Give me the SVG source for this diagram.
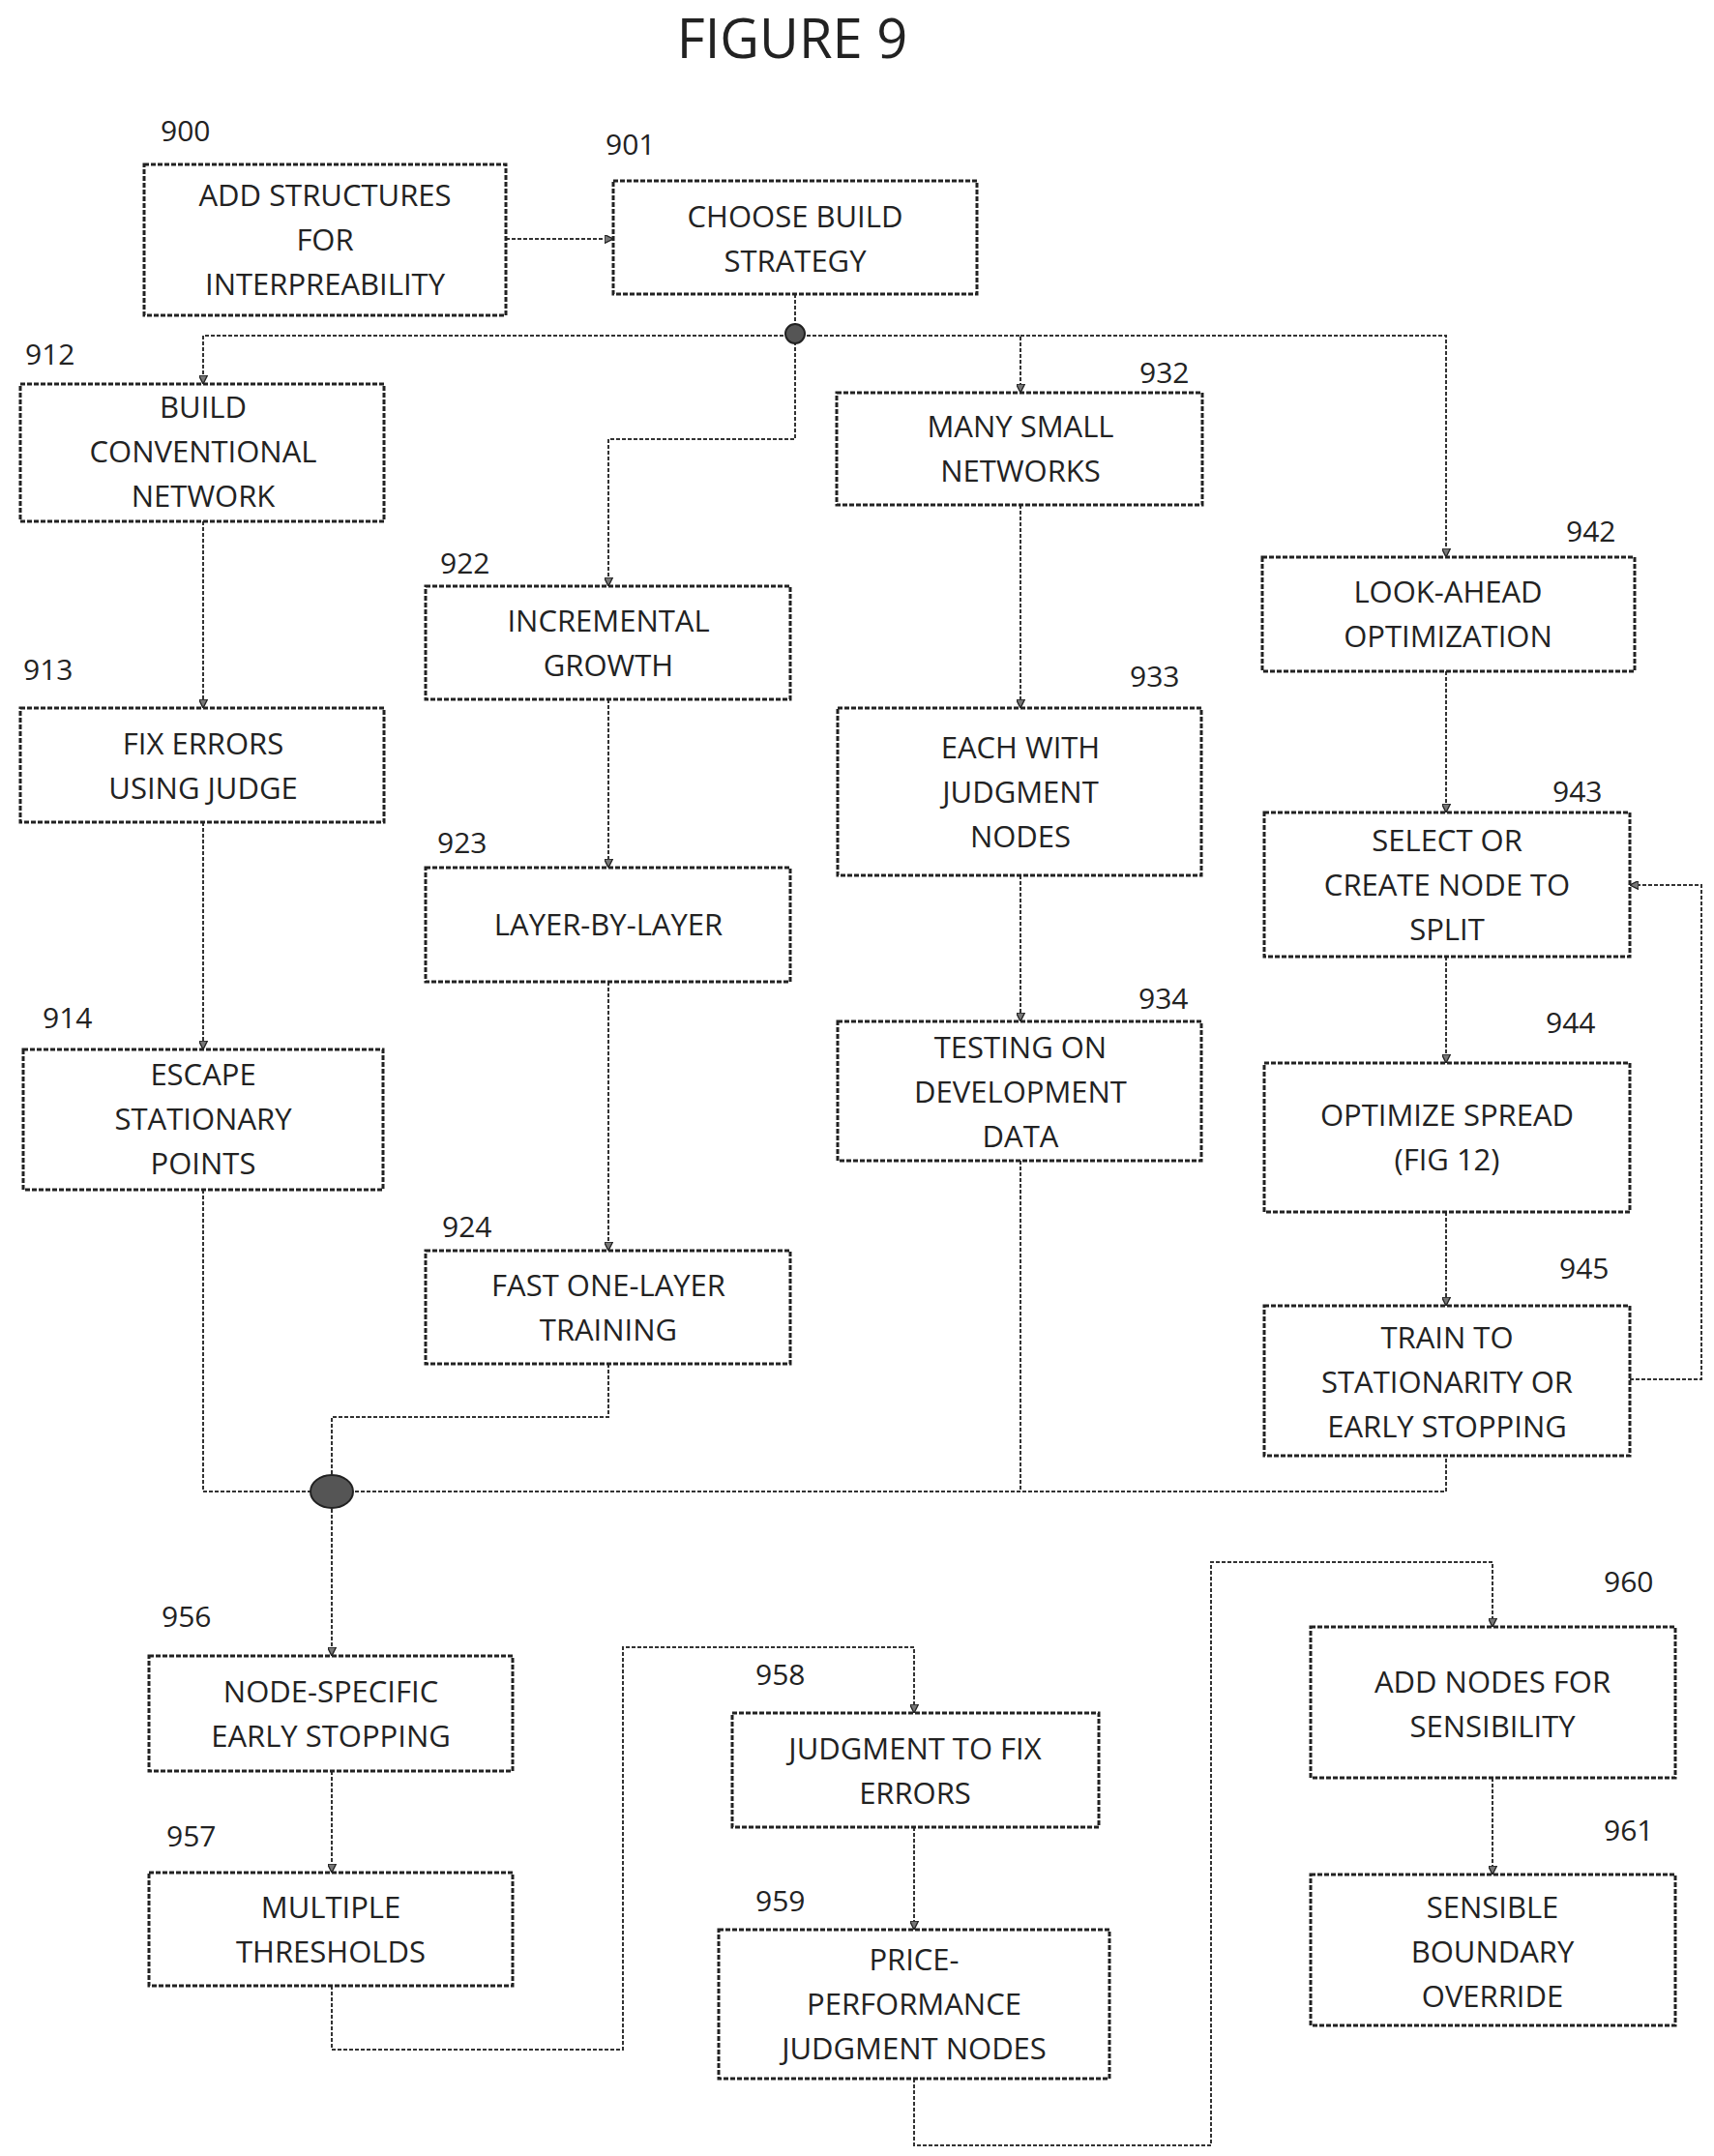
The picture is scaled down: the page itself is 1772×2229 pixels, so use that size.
<svg xmlns="http://www.w3.org/2000/svg" width="1772" height="2229" viewBox="0 0 1772 2229">
<style>
.b{fill:#fff;stroke:#222;stroke-width:3;stroke-dasharray:5 2}
.t{font-family:"Open Sans","Liberation Sans",sans-serif;font-size:31px;fill:#222;text-anchor:middle}
.l{font-family:"Open Sans","Liberation Sans",sans-serif;font-size:30px;fill:#222}
.c{fill:none;stroke:#333;stroke-width:2;stroke-dasharray:4 2}
</style>
<defs><marker id="a" viewBox="0 0 10 10" refX="10" refY="5" markerWidth="9" markerHeight="9" orient="auto" markerUnits="userSpaceOnUse"><path d="M0,0 L10,5 L0,10 Z" fill="#777" stroke="#222" stroke-width="1.5"/></marker></defs>
<rect width="1772" height="2229" fill="#fff"/>
<text x="819" y="60" class="t" style="font-size:56px">FIGURE 9</text>
<g id="connectors">
<path class="c" d="M523,247 H634" marker-end="url(#a)"/>
<path class="c" d="M822,304 V347"/>
<path class="c" d="M822,347 H210 V397" marker-end="url(#a)"/>
<path class="c" d="M822,347 V454 H629 V606" marker-end="url(#a)"/>
<path class="c" d="M822,347 H1055 V406" marker-end="url(#a)"/>
<path class="c" d="M1055,347 H1495 V576" marker-end="url(#a)"/>
<path class="c" d="M210,539 V732" marker-end="url(#a)"/>
<path class="c" d="M210,850 V1085" marker-end="url(#a)"/>
<path class="c" d="M629,723 V897" marker-end="url(#a)"/>
<path class="c" d="M629,1015 V1293" marker-end="url(#a)"/>
<path class="c" d="M1055,522 V732" marker-end="url(#a)"/>
<path class="c" d="M1055,905 V1056" marker-end="url(#a)"/>
<path class="c" d="M1495,694 V840" marker-end="url(#a)"/>
<path class="c" d="M1495,989 V1099" marker-end="url(#a)"/>
<path class="c" d="M1495,1253 V1350" marker-end="url(#a)"/>
<path class="c" d="M1685,1426 H1759 V915 H1685" marker-end="url(#a)"/>
<path class="c" d="M210,1230 V1542 H343"/>
<path class="c" d="M629,1410 V1465 H343 V1542"/>
<path class="c" d="M343,1542 H1495 V1505"/>
<path class="c" d="M1055,1200 V1542"/>
<path class="c" d="M343,1542 V1712" marker-end="url(#a)"/>
<path class="c" d="M343,1831 V1936" marker-end="url(#a)"/>
<path class="c" d="M343,2053 V2119 H644 V1703 H945 V1771" marker-end="url(#a)"/>
<path class="c" d="M945,1889 V1995" marker-end="url(#a)"/>
<path class="c" d="M945,2149 V2218 H1252 V1615 H1543 V1682" marker-end="url(#a)"/>
<path class="c" d="M1543,1838 V1938" marker-end="url(#a)"/>
<circle cx="822" cy="345" r="10" fill="#555" stroke="#222" stroke-width="2"/>
<ellipse cx="343" cy="1542" rx="22" ry="17" fill="#555" stroke="#222" stroke-width="2"/>
</g>
<g id="n900"><rect class="b" x="149" y="170" width="374" height="156"/><text class="l" x="166" y="146">900</text><text class="t" x="336" y="213">ADD STRUCTURES</text><text class="t" x="336" y="259">FOR</text><text class="t" x="336" y="305">INTERPREABILITY</text></g>
<g id="n901"><rect class="b" x="634" y="187" width="376" height="117"/><text class="l" x="626" y="160">901</text><text class="t" x="822" y="235">CHOOSE BUILD</text><text class="t" x="822" y="281">STRATEGY</text></g>
<g id="n912"><rect class="b" x="21" y="397" width="376" height="142"/><text class="l" x="26" y="377">912</text><text class="t" x="210" y="432">BUILD</text><text class="t" x="210" y="478">CONVENTIONAL</text><text class="t" x="210" y="524">NETWORK</text></g>
<g id="n913"><rect class="b" x="21" y="732" width="376" height="118"/><text class="l" x="24" y="703">913</text><text class="t" x="210" y="780">FIX ERRORS</text><text class="t" x="210" y="826">USING JUDGE</text></g>
<g id="n914"><rect class="b" x="24" y="1085" width="372" height="145"/><text class="l" x="44" y="1063">914</text><text class="t" x="210" y="1122">ESCAPE</text><text class="t" x="210" y="1168">STATIONARY</text><text class="t" x="210" y="1214">POINTS</text></g>
<g id="n922"><rect class="b" x="440" y="606" width="377" height="117"/><text class="l" x="455" y="593">922</text><text class="t" x="629" y="653">INCREMENTAL</text><text class="t" x="629" y="699">GROWTH</text></g>
<g id="n923"><rect class="b" x="440" y="897" width="377" height="118"/><text class="l" x="452" y="882">923</text><text class="t" x="629" y="967">LAYER-BY-LAYER</text></g>
<g id="n924"><rect class="b" x="440" y="1293" width="377" height="117"/><text class="l" x="457" y="1279">924</text><text class="t" x="629" y="1340">FAST ONE-LAYER</text><text class="t" x="629" y="1386">TRAINING</text></g>
<g id="n932"><rect class="b" x="865" y="406" width="378" height="116"/><text class="l" x="1178" y="396">932</text><text class="t" x="1055" y="452">MANY SMALL</text><text class="t" x="1055" y="498">NETWORKS</text></g>
<g id="n933"><rect class="b" x="866" y="732" width="376" height="173"/><text class="l" x="1168" y="710">933</text><text class="t" x="1055" y="784">EACH WITH</text><text class="t" x="1055" y="830">JUDGMENT</text><text class="t" x="1055" y="876">NODES</text></g>
<g id="n934"><rect class="b" x="866" y="1056" width="376" height="144"/><text class="l" x="1177" y="1043">934</text><text class="t" x="1055" y="1094">TESTING ON</text><text class="t" x="1055" y="1140">DEVELOPMENT</text><text class="t" x="1055" y="1186">DATA</text></g>
<g id="n942"><rect class="b" x="1305" y="576" width="385" height="118"/><text class="l" x="1619" y="560">942</text><text class="t" x="1497" y="623">LOOK-AHEAD</text><text class="t" x="1497" y="669">OPTIMIZATION</text></g>
<g id="n943"><rect class="b" x="1307" y="840" width="378" height="149"/><text class="l" x="1605" y="829">943</text><text class="t" x="1496" y="880">SELECT OR</text><text class="t" x="1496" y="926">CREATE NODE TO</text><text class="t" x="1496" y="972">SPLIT</text></g>
<g id="n944"><rect class="b" x="1307" y="1099" width="378" height="154"/><text class="l" x="1598" y="1068">944</text><text class="t" x="1496" y="1164">OPTIMIZE SPREAD</text><text class="t" x="1496" y="1210">(FIG 12)</text></g>
<g id="n945"><rect class="b" x="1307" y="1350" width="378" height="155"/><text class="l" x="1612" y="1322">945</text><text class="t" x="1496" y="1394">TRAIN TO</text><text class="t" x="1496" y="1440">STATIONARITY OR</text><text class="t" x="1496" y="1486">EARLY STOPPING</text></g>
<g id="n956"><rect class="b" x="154" y="1712" width="376" height="119"/><text class="l" x="167" y="1682">956</text><text class="t" x="342" y="1760">NODE-SPECIFIC</text><text class="t" x="342" y="1806">EARLY STOPPING</text></g>
<g id="n957"><rect class="b" x="154" y="1936" width="376" height="117"/><text class="l" x="172" y="1909">957</text><text class="t" x="342" y="1983">MULTIPLE</text><text class="t" x="342" y="2029">THRESHOLDS</text></g>
<g id="n958"><rect class="b" x="757" y="1771" width="379" height="118"/><text class="l" x="781" y="1742">958</text><text class="t" x="946" y="1819">JUDGMENT TO FIX</text><text class="t" x="946" y="1865">ERRORS</text></g>
<g id="n959"><rect class="b" x="743" y="1995" width="404" height="154"/><text class="l" x="781" y="1976">959</text><text class="t" x="945" y="2037">PRICE-</text><text class="t" x="945" y="2083">PERFORMANCE</text><text class="t" x="945" y="2129">JUDGMENT NODES</text></g>
<g id="n960"><rect class="b" x="1355" y="1682" width="377" height="156"/><text class="l" x="1658" y="1646">960</text><text class="t" x="1543" y="1750">ADD NODES FOR</text><text class="t" x="1543" y="1796">SENSIBILITY</text></g>
<g id="n961"><rect class="b" x="1355" y="1938" width="377" height="156"/><text class="l" x="1658" y="1903">961</text><text class="t" x="1543" y="1983">SENSIBLE</text><text class="t" x="1543" y="2029">BOUNDARY</text><text class="t" x="1543" y="2075">OVERRIDE</text></g>
</svg>
